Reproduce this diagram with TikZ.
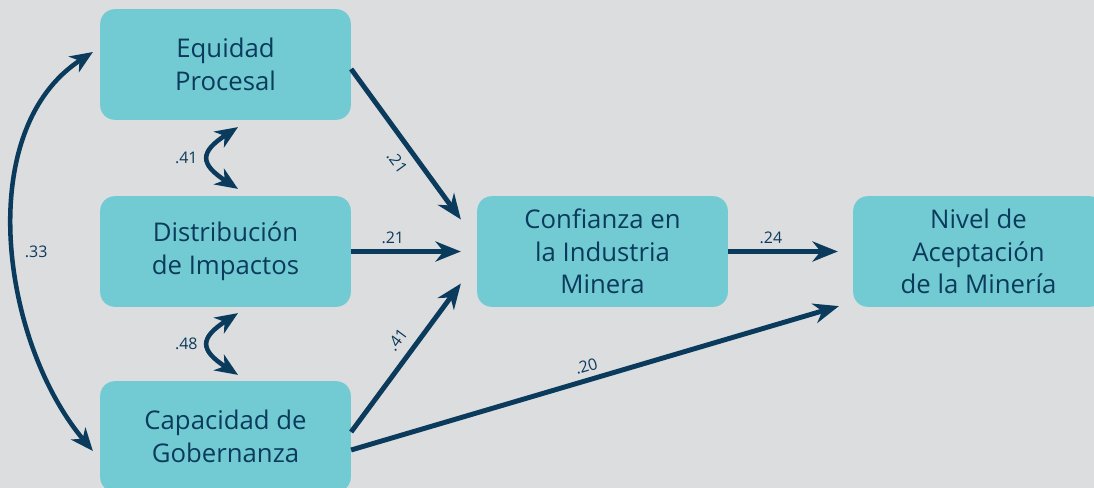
\documentclass[tikz,border=0pt]{standalone}
\usepackage{fontspec}
\setmainfont{Open Sans}
\usetikzlibrary{arrows.meta}
\definecolor{fondo}{HTML}{DCDDDF}
\definecolor{turquesa}{HTML}{72CBD3}
\definecolor{marino}{HTML}{0B3B5C}

\begin{document}
\begin{tikzpicture}[x=0.75pt, y=-0.75pt,
	bloque/.style={shape=rectangle, fill=turquesa, rounded corners=11pt, minimum width=188pt, minimum height=83pt, align=center, text=marino, font=\fontsize{19.3}{24.5}\selectfont},
	flecha/.style={-{Stealth[length=19pt, width=15pt, inset=6pt]}, line width=3.7pt, draw=marino},
	doble/.style={{Stealth[length=17pt, width=14pt, inset=5pt]}-{Stealth[length=17pt, width=14pt, inset=5pt]}, line width=3.4pt, draw=marino},
	peso/.style={text=marino, font=\fontsize{12}{14}\selectfont, inner sep=1pt}]
	
	\fill[fondo] (0,0) rectangle (1094,488);
	\useasboundingbox (0,0) rectangle (1094,488);
	
	\node[bloque] (ep) at (225.5, 64.5)  {Equidad\\Procesal};
	\node[bloque] (di) at (225.5, 251.5) {Distribución\\de Impactos};
	\node[bloque] (cg) at (225.5, 436.5) {Capacidad de\\Gobernanza};
	\node[bloque] (cf) at (602.5, 251.5) {Confianza en\\la Industria\\Minera};
	\node[bloque] (na) at (978.5, 251.5) {Nivel de\\Aceptación\\de la Minería};
	
	\path ([shift={(0,4.5)}]ep.east) edge[flecha] node[peso, sloped, below=6pt, pos=0.55] {.21} ([shift={(-16,-32)}]cf.west);
	\path (di.east) edge[flecha] node[peso, above=3pt, pos=0.38] {.21} ([shift={(-16,0)}]cf.west);
	\path ([shift={(0,-4.5)}]cg.east) edge[flecha] node[peso, sloped, above=6pt, pos=0.55] {.41} ([shift={(-16,32)}]cf.west);
	\path ([shift={(0,13.5)}]cg.east) edge[flecha] node[peso, sloped, above=3pt, pos=0.49] {.20} ([shift={(-14,-1)}]na.south west);
	\path (cf.east) edge[flecha] node[peso, above=3pt, pos=0.39] {.24} ([shift={(-15,0)}]na.west);
	
	\path ([shift={(12.5,-7)}]di.north) edge[doble, out=147, in=213, looseness=1.9] node[peso, left=6pt] {.41} ([shift={(12.5,7)}]ep.south);
	\path ([shift={(12.5,-6)}]cg.north) edge[doble, out=147, in=213, looseness=1.9] node[peso, left=6pt] {.48} ([shift={(12.5,6)}]di.south);
	\path ([shift={(-7,14.5)}]cg.west) edge[doble, out=130, in=213, looseness=0.92] node[peso, right=6pt, yshift=-9pt] {.33} ([shift={(-7,-12.5)}]ep.west);
	\end{tikzpicture}
\end{document}
